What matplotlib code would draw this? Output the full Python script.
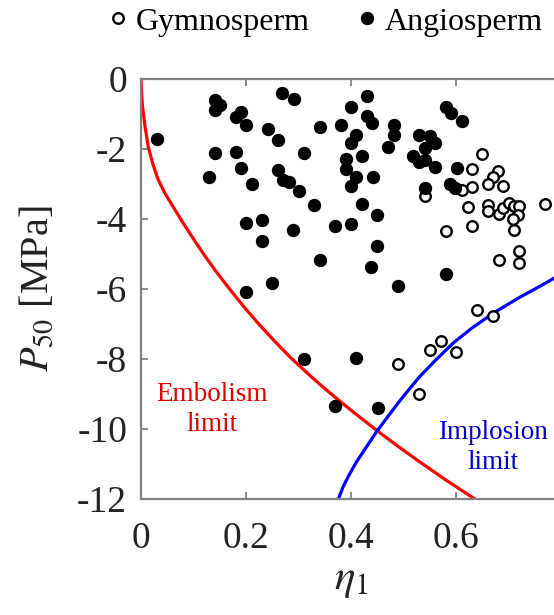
import numpy as np
import matplotlib.pyplot as plt

plt.rcParams['font.family'] = ['Liberation Serif', 'DejaVu Serif']
plt.rcParams['mathtext.fontset'] = 'stix'

# angiosperm points (eta_1, P50)
angio_eta = [0.030, 0.140, 0.150, 0.140, 0.190, 0.180, 0.200, 0.241, 0.260, 0.269,
             0.291, 0.430, 0.400, 0.341, 0.380, 0.430, 0.440, 0.481, 0.481, 0.471,
             0.410, 0.400, 0.311, 0.390, 0.420, 0.390, 0.140, 0.180, 0.190, 0.130,
             0.211, 0.261, 0.270, 0.281, 0.300, 0.410, 0.400, 0.441, 0.580, 0.590,
             0.611, 0.530, 0.550, 0.560, 0.541, 0.519, 0.529, 0.541, 0.560, 0.601,
             0.541, 0.589, 0.599, 0.330, 0.420, 0.450, 0.290, 0.370, 0.400, 0.450,
             0.340, 0.439, 0.490, 0.200, 0.230, 0.230, 0.250, 0.200, 0.581, 0.310,
             0.410, 0.370, 0.451]
angio_p50 = [-1.71, -0.61, -0.75, -0.88, -0.93, -1.09, -1.31, -1.43, -1.74, -0.39,
             -0.57, -0.48, -0.81, -1.36, -1.31, -1.06, -1.26, -1.31, -1.61, -1.93,
             -1.61, -1.83, -2.11, -2.29, -2.20, -2.58, -2.11, -2.09, -2.53, -2.80,
             -3.00, -2.61, -2.88, -2.93, -3.19, -2.80, -3.06, -2.80, -0.79, -0.98,
             -1.21, -1.59, -1.63, -1.82, -1.97, -2.20, -2.38, -2.32, -2.51, -2.53,
             -3.10, -2.99, -3.10, -3.61, -3.56, -3.88, -4.32, -4.19, -4.13, -4.76,
             -5.18, -5.38, -5.92, -4.11, -4.03, -4.62, -5.83, -6.08, -5.56, -7.99,
             -7.96, -9.33, -9.39]

# gymnosperm points
gymno_eta = [0.541, 0.611, 0.650, 0.630, 0.680, 0.670, 0.660, 0.630, 0.690, 0.622,
             0.660, 0.660, 0.681, 0.690, 0.700, 0.710, 0.720, 0.719, 0.709, 0.710,
             0.770, 0.581, 0.630, 0.720, 0.720, 0.681, 0.640, 0.670, 0.490, 0.530,
             0.550, 0.571, 0.600]
gymno_p50 = [-3.33, -3.16, -2.14, -2.57, -2.62, -2.80, -3.01, -3.09, -3.07, -3.66,
             -3.59, -3.78, -3.85, -3.69, -3.54, -3.64, -3.64, -3.88, -4.00, -4.31,
             -3.56, -4.33, -4.19, -4.90, -5.26, -5.16, -6.59, -6.76, -8.13, -8.99,
             -7.75, -7.49, -7.79]

# limit curves
emb_eta = [0, 0.001, 0.003, 0.0076, 0.014, 0.022, 0.032, 0.045, 0.060, 0.080,
           0.100, 0.121, 0.143, 0.165, 0.195, 0.225, 0.255, 0.285, 0.315, 0.345,
           0.375, 0.404, 0.449, 0.490, 0.531, 0.580, 0.636]
emb_p50 = [0, -0.40, -0.80, -1.35, -1.95, -2.40, -2.85, -3.25, -3.62, -4.11,
           -4.57, -5.04, -5.50, -5.93, -6.49, -7.01, -7.50, -7.96, -8.38, -8.78,
           -9.16, -9.51, -10.04, -10.50, -10.94, -11.45, -12.0]
imp_eta = [0.376, 0.385, 0.395, 0.410, 0.430, 0.449, 0.470, 0.490, 0.510, 0.531,
           0.560, 0.595, 0.630, 0.671, 0.720, 0.760, 0.787, 0.800]
imp_p50 = [-12.0, -11.65, -11.35, -10.95, -10.50, -10.07, -9.65, -9.25, -8.88, -8.50,
           -8.05, -7.54, -7.12, -6.69, -6.25, -5.92, -5.69, -5.57]

xticks = [0, 0.2, 0.4, 0.6]
yticks = [0, -2, -4, -6, -8, -10, -12]

fig = plt.figure(figsize=(5.54, 6.15), dpi=100)
# right spine falls just outside the picture, like the original crop
ax = fig.add_axes([141 / 554, 116 / 615, 420 / 554, 420 / 615])

ax.plot(emb_eta, emb_p50, color='#ff0000', lw=2.3, zorder=2)
ax.plot(imp_eta, imp_p50, color='#0000ff', lw=2.3, zorder=2)
g, = ax.plot(gymno_eta, gymno_p50, 'o', ms=7.6, mfc='white', mec='black', mew=1.7,
             ls='none', zorder=3, label='Gymnosperm')
a, = ax.plot(angio_eta, angio_p50, 'o', ms=8.6, mfc='black', mec='black',
             ls='none', zorder=3, label='Angiosperm')

ax.text(0.135, -9.45, 'Embolism\nlimit', color='#e00000', fontsize=19.5,
        ha='center', va='center', linespacing=1.25)
ax.text(0.67, -10.53, 'Implosion\nlimit', color='#0000cc', fontsize=19.5,
        ha='center', va='center', linespacing=1.25)

ax.set_xlim(0, 0.8)
ax.set_ylim(-12, 0)
ax.set_xticks(xticks)
ax.set_xticklabels(['0', '0.2', '0.4', '0.6'])
ax.set_yticks(yticks)
ax.set_yticklabels(['0', '-2', '-4', '-6', '-8', '-10', '-12'])
ax.tick_params(direction='in', length=5, width=1.2, color='#777777',
               labelsize=27, labelcolor='#222222', top=True)
ax.tick_params(axis='x', pad=16)
ax.tick_params(axis='y', pad=10)
for s in ax.spines.values():
    s.set_color('#808080')
    s.set_linewidth(1.6)

ax.set_xlabel(r'$\eta_1$', fontsize=31, color='#222222', labelpad=4)
ax.set_ylabel(r'$P_{50}$ [MPa]', fontsize=29, color='#222222', labelpad=15)

fig.legend(handles=[g, a], loc='center', bbox_to_anchor=(0.585, 1 - 22 / 615),
           ncol=2, frameon=False, fontsize=23, handletextpad=0.15,
           columnspacing=1.4, handlelength=0.8, markerscale=1.0)

fig.savefig('out.png', dpi=100)
